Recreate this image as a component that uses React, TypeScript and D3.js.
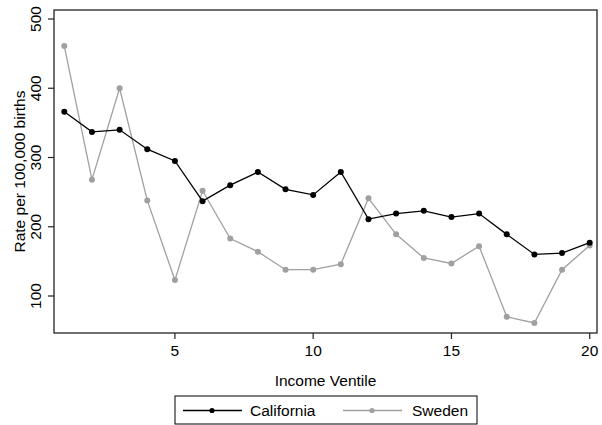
import React from "react";
import * as d3 from "d3";

const ventiles = d3.range(1, 21);
const california = [366, 337, 340, 312, 295, 237, 260, 279, 254, 246, 279, 211, 219, 223, 214, 219, 189, 160, 162, 177];
const sweden = [461, 268, 400, 238, 123, 252, 183, 164, 138, 138, 146, 241, 189, 155, 147, 172, 70, 61, 138, 173];
const xTicks = [5, 10, 15, 20];
const yTicks = [100, 200, 300, 400, 500];

const W = 602, H = 425;
const L = 54, R = 597, T = 10, B = 333;
const FONT = "'Liberation Sans', Arial, Helvetica, sans-serif";
const FS = 15.5;

export default function App() {
  const x = d3.scaleLinear().domain([1, 20]).range([64.3, 589.7]);
  const y = d3.scaleLinear().domain([100, 500]).range([296, 19]);
  const line = d3.line<number>().x((_, i) => x(ventiles[i])).y((d) => y(d));
  const series = [
    { name: "California", data: california, color: "#000000" },
    { name: "Sweden", data: sweden, color: "#a0a0a0" },
  ];
  return (
    <svg width={W} height={H} style={{ position: "absolute", left: 0, top: 0, background: "#fff" }}>
      <rect x={0} y={0} width={W} height={H} fill="#fff" />
      {series.slice().reverse().map((s) => (
        <g key={s.name}>
          <path d={line(s.data) || ""} fill="none" stroke={s.color} strokeWidth={1.3} />
          {s.data.map((v, i) => (
            <circle key={i} cx={x(ventiles[i])} cy={y(v)} r={3} fill={s.color} />
          ))}
        </g>
      ))}
      <rect x={L} y={T} width={R - L} height={B - T} fill="none" stroke="#222" strokeWidth={1.3} />
      {yTicks.map((t) => (
        <g key={t}>
          <line x1={L - 6} x2={L} y1={y(t)} y2={y(t)} stroke="#222" strokeWidth={1.2} />
          <text transform={`translate(${41},${y(t)}) rotate(-90)`} textAnchor="middle" fontFamily={FONT} fontSize={FS} fill="#000">{t}</text>
        </g>
      ))}
      {xTicks.map((t) => (
        <g key={t}>
          <line x1={x(t)} x2={x(t)} y1={B} y2={B + 6} stroke="#222" strokeWidth={1.2} />
          <text x={x(t)} y={356} textAnchor="middle" fontFamily={FONT} fontSize={FS} fill="#000">{t}</text>
        </g>
      ))}
      <text transform={`translate(24.5,${(T + B) / 2}) rotate(-90)`} textAnchor="middle" fontFamily={FONT} fontSize={FS} fill="#000">Rate per 100,000 births</text>
      <text x={(L + R) / 2} y={386} textAnchor="middle" fontFamily={FONT} fontSize={FS} fill="#000">Income Ventile</text>
      <rect x={175} y={396} width={302} height={28} fill="none" stroke="#000" strokeWidth={1} />
      {series.map((s, i) => {
        const x0 = i === 0 ? 183 : 343;
        return (
          <g key={s.name}>
            <line x1={x0} x2={x0 + 59} y1={410.5} y2={410.5} stroke={s.color} strokeWidth={1.3} />
            <circle cx={x0 + 29} cy={410.5} r={2.6} fill={s.color} />
            <text x={i === 0 ? 250 : 412} y={416} fontFamily={FONT} fontSize={FS} fill="#000">{s.name}</text>
          </g>
        );
      })}
    </svg>
  );
}
